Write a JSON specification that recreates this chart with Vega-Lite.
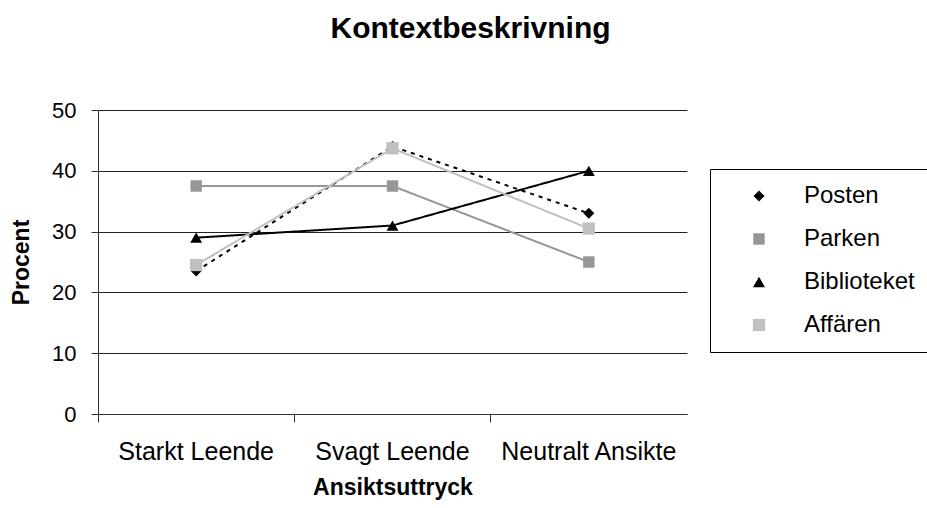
{
  "$schema": "https://vega.github.io/schema/vega-lite/v6.json",
  "width": 589,
  "height": 304,
  "padding": {"left": 10, "top": 14, "right": 0, "bottom": 2},
  "background": "white",
  "title": {"text": "Kontextbeskrivning", "font": "Liberation Sans", "fontSize": 30, "fontWeight": "bold", "color": "black", "anchor": "middle", "frame": "bounds", "offset": 55},
  "config": {
    "view": {"stroke": null},
    "font": "Liberation Sans",
    "legend": {
      "orient": "none",
      "legendX": 612,
      "legendY": 59,
      "strokeColor": "black",
      "strokeWidth": 1,
      "fillColor": "white",
      "padding": 15,
      "labelFont": "Liberation Sans",
      "labelFontSize": 24,
      "labelColor": "black",
      "rowPadding": 19,
      "symbolOffset": 22,
      "labelOffset": 33,
      "symbolSize": 180,
      "symbolStrokeWidth": 0
    }
  },
  "data": {
    "values": [
      {"Ansiktsuttryck": "Starkt Leende", "Serie": "Posten", "Procent": 23.5},
      {"Ansiktsuttryck": "Svagt Leende", "Serie": "Posten", "Procent": 44},
      {"Ansiktsuttryck": "Neutralt Ansikte", "Serie": "Posten", "Procent": 33},
      {"Ansiktsuttryck": "Starkt Leende", "Serie": "Parken", "Procent": 37.5},
      {"Ansiktsuttryck": "Svagt Leende", "Serie": "Parken", "Procent": 37.5},
      {"Ansiktsuttryck": "Neutralt Ansikte", "Serie": "Parken", "Procent": 25},
      {"Ansiktsuttryck": "Starkt Leende", "Serie": "Biblioteket", "Procent": 29},
      {"Ansiktsuttryck": "Svagt Leende", "Serie": "Biblioteket", "Procent": 31},
      {"Ansiktsuttryck": "Neutralt Ansikte", "Serie": "Biblioteket", "Procent": 40},
      {"Ansiktsuttryck": "Starkt Leende", "Serie": "Affären", "Procent": 24.5},
      {"Ansiktsuttryck": "Svagt Leende", "Serie": "Affären", "Procent": 43.7},
      {"Ansiktsuttryck": "Neutralt Ansikte", "Serie": "Affären", "Procent": 30.5}
    ]
  },
  "encoding": {
    "x": {
      "field": "Ansiktsuttryck",
      "type": "nominal",
      "sort": ["Starkt Leende", "Svagt Leende", "Neutralt Ansikte"],
      "scale": {"type": "band", "paddingInner": 0, "paddingOuter": 0},
      "axis": {
        "title": "Ansiktsuttryck",
        "titleFont": "Liberation Sans",
        "titleFontSize": 23,
        "titleFontWeight": "bold",
        "titleColor": "black",
        "titlePadding": 12,
        "labelFont": "Liberation Sans",
        "labelFontSize": 25,
        "labelColor": "black",
        "labelAngle": 0,
        "labelPadding": 17,
        "bandPosition": 0,
        "ticks": true,
        "tickSize": 8,
        "tickColor": "#333",
        "domainColor": "#333",
        "grid": false
      }
    },
    "y": {
      "field": "Procent",
      "type": "quantitative",
      "scale": {"domain": [0, 50]},
      "axis": {
        "title": "Procent",
        "titleFont": "Liberation Sans",
        "titleFontSize": 23,
        "titleFontWeight": "bold",
        "titleColor": "black",
        "titlePadding": 18,
        "labelFont": "Liberation Sans",
        "labelFontSize": 22,
        "labelColor": "black",
        "labelPadding": 15,
        "values": [0, 10, 20, 30, 40, 50],
        "tickSize": 7,
        "tickColor": "#333",
        "domainColor": "#333",
        "grid": true,
        "gridColor": "#222",
        "gridOpacity": 1
      }
    }
  },
  "layer": [
    {
      "mark": {"type": "line", "strokeWidth": 2},
      "encoding": {
        "color": {"field": "Serie", "type": "nominal", "title": null, "scale": {"domain": ["Posten", "Parken", "Biblioteket", "Affären"], "range": ["#000000", "#969696", "#000000", "#c0c0c0"]}},
        "strokeDash": {"field": "Serie", "type": "nominal", "title": null, "scale": {"domain": ["Posten", "Parken", "Biblioteket", "Affären"], "range": [[4, 5], [1, 0], [1, 0], [1, 0]]}}
      }
    },
    {
      "mark": {"type": "point", "filled": true, "opacity": 1},
      "encoding": {
        "color": {"field": "Serie", "type": "nominal", "title": null, "scale": {"domain": ["Posten", "Parken", "Biblioteket", "Affären"], "range": ["#000000", "#969696", "#000000", "#c0c0c0"]}},
        "shape": {"field": "Serie", "type": "nominal", "title": null, "scale": {"domain": ["Posten", "Parken", "Biblioteket", "Affären"], "range": ["diamond", "square", "triangle-up", "square"]}},
        "size": {"field": "Serie", "type": "nominal", "title": null, "scale": {"domain": ["Posten", "Parken", "Biblioteket", "Affären"], "range": [121, 150, 180, 350]}}
      }
    }
  ]
}
